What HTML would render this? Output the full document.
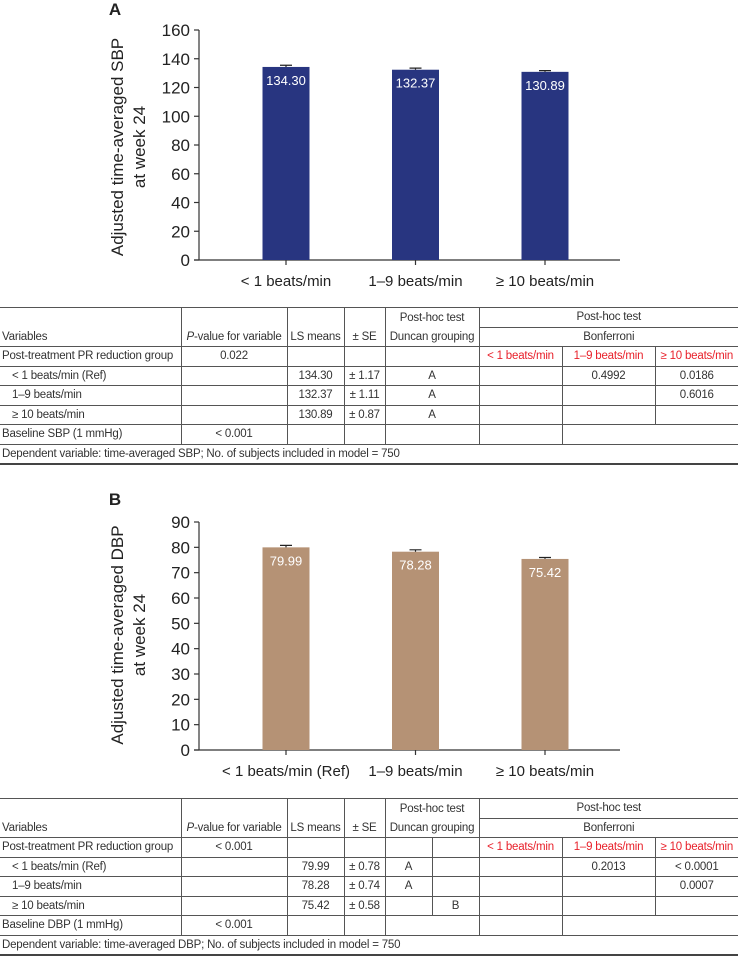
<!DOCTYPE html>
<html><head><meta charset="utf-8">
<style>
html,body{margin:0;padding:0;background:#fff;}
body{width:738px;height:956px;position:relative;overflow:hidden;font-family:"Liberation Sans",sans-serif;}
svg{position:absolute;left:0;top:0;}
table{position:absolute;left:0;width:738px;border-collapse:collapse;table-layout:fixed;font-family:"Liberation Sans",sans-serif;font-size:11.5px;letter-spacing:-0.2px;color:#333;}
td{padding:0 1px;height:18.5px;text-align:center;white-space:nowrap;overflow:hidden;border-bottom:1px solid #555;}
td.l{text-align:left;padding-left:2px;}
td.i{text-align:left;padding-left:12px;}
td.r{border-right:1px solid #555;}
td.nb{border-bottom:none;}
td.red{color:#e8202a;}
tr.last td{border-bottom:2px solid #444;}
tr.first td{border-top:1px solid #555;}
</style></head><body>
<svg id="chart" width="738" height="956"></svg>

<table id="tableA" style="top:307px">
<colgroup><col style="width:181px"><col style="width:106px"><col style="width:57px"><col style="width:41px"><col style="width:94px"><col style="width:83px"><col style="width:93px"><col style="width:83px"></colgroup>
<tr class="first"><td class="r nb"></td><td class="r nb"></td><td class="r nb"></td><td class="r nb"></td><td class="r nb">Post-hoc test</td><td colspan="3">Post-hoc test</td></tr>
<tr><td class="l r">Variables</td><td class="r"><i>P</i>-value for variable</td><td class="r">LS means</td><td class="r">± SE</td><td class="r">Duncan grouping</td><td colspan="3">Bonferroni</td></tr>
<tr><td class="l r">Post-treatment PR reduction group</td><td class="r">0.022</td><td class="r"></td><td class="r"></td><td class="r"></td><td class="r red">&lt; 1 beats/min</td><td class="r red">1–9 beats/min</td><td class="red">≥ 10 beats/min</td></tr>
<tr><td class="i r">&lt; 1 beats/min (Ref)</td><td class="r"></td><td class="r">134.30</td><td class="r">± 1.17</td><td class="r">A</td><td class="r"></td><td class="r">0.4992</td><td>0.0186</td></tr>
<tr><td class="i r">1–9 beats/min</td><td class="r"></td><td class="r">132.37</td><td class="r">± 1.11</td><td class="r">A</td><td class="r"></td><td class="r"></td><td>0.6016</td></tr>
<tr><td class="i r">≥ 10 beats/min</td><td class="r"></td><td class="r">130.89</td><td class="r">± 0.87</td><td class="r">A</td><td class="r"></td><td class="r"></td><td></td></tr>
<tr><td class="l r">Baseline SBP (1 mmHg)</td><td class="r">&lt; 0.001</td><td class="r"></td><td class="r"></td><td class="r"></td><td class="r"></td><td colspan="2"></td></tr>
<tr class="last"><td class="l" colspan="8">Dependent variable: time-averaged SBP; No. of subjects included in model = 750</td></tr>
</table>

<table id="tableB" style="top:798px">
<colgroup><col style="width:181px"><col style="width:106px"><col style="width:57px"><col style="width:41px"><col style="width:47px"><col style="width:47px"><col style="width:83px"><col style="width:93px"><col style="width:83px"></colgroup>
<tr class="first"><td class="r nb"></td><td class="r nb"></td><td class="r nb"></td><td class="r nb"></td><td class="r nb" colspan="2">Post-hoc test</td><td colspan="3">Post-hoc test</td></tr>
<tr><td class="l r">Variables</td><td class="r"><i>P</i>-value for variable</td><td class="r">LS means</td><td class="r">± SE</td><td class="r" colspan="2">Duncan grouping</td><td colspan="3">Bonferroni</td></tr>
<tr><td class="l r">Post-treatment PR reduction group</td><td class="r">&lt; 0.001</td><td class="r"></td><td class="r"></td><td class="r"></td><td class="r"></td><td class="r red">&lt; 1 beats/min</td><td class="r red">1–9 beats/min</td><td class="red">≥ 10 beats/min</td></tr>
<tr><td class="i r">&lt; 1 beats/min (Ref)</td><td class="r"></td><td class="r">79.99</td><td class="r">± 0.78</td><td class="r">A</td><td class="r"></td><td class="r"></td><td class="r">0.2013</td><td>&lt; 0.0001</td></tr>
<tr><td class="i r">1–9 beats/min</td><td class="r"></td><td class="r">78.28</td><td class="r">± 0.74</td><td class="r">A</td><td class="r"></td><td class="r"></td><td class="r"></td><td>0.0007</td></tr>
<tr><td class="i r">≥ 10 beats/min</td><td class="r"></td><td class="r">75.42</td><td class="r">± 0.58</td><td class="r"></td><td class="r">B</td><td class="r"></td><td class="r"></td><td></td></tr>
<tr><td class="l r">Baseline DBP (1 mmHg)</td><td class="r">&lt; 0.001</td><td class="r"></td><td class="r"></td><td class="r" colspan="2"></td><td class="r"></td><td colspan="2"></td></tr>
<tr class="last"><td class="l" colspan="9">Dependent variable: time-averaged DBP; No. of subjects included in model = 750</td></tr>
</table>

<script>
const categoriesA = ["< 1 beats/min", "1–9 beats/min", "≥ 10 beats/min"];
const valuesA = [134.30, 132.37, 130.89];
const errorsA = [1.17, 1.11, 0.87];
const ticksA = [0, 20, 40, 60, 80, 100, 120, 140, 160];
const categoriesB = ["< 1 beats/min (Ref)", "1–9 beats/min", "≥ 10 beats/min"];
const valuesB = [79.99, 78.28, 75.42];
const errorsB = [0.78, 0.74, 0.58];
const ticksB = [0, 10, 20, 30, 40, 50, 60, 70, 80, 90];

const NS = "http://www.w3.org/2000/svg";
const svg = document.getElementById("chart");
function mk(tag, attrs, text) {
  const e = document.createElementNS(NS, tag);
  for (const k in attrs) e.setAttribute(k, attrs[k]);
  if (text !== undefined) e.textContent = text;
  svg.appendChild(e);
  return e;
}
function drawChart(cfg) {
  const x0 = 199, x1 = 620;
  const yScale = v => cfg.yBottom - (v - cfg.ticks[0]) / (cfg.ticks[cfg.ticks.length - 1] - cfg.ticks[0]) * (cfg.yBottom - cfg.yTop);
  const xCenter = i => 286 + i * 129.5;
  const bw = 47;
  const letter = mk("text", {x: 115, y: cfg.letterY, "font-size": 17, "font-weight": "bold", fill: "#222", "text-anchor": "middle"}, cfg.letter);
  
  
  const ya = mk("line", {x1: x0, y1: cfg.yTop, x2: x0, y2: cfg.yBottom, stroke: "#333", "stroke-width": 1.2});
  
  
  const xa = mk("line", {x1: x0 - 5, y1: cfg.yBottom, x2: x1, y2: cfg.yBottom, stroke: "#333", "stroke-width": 1.2});
  
  
  cfg.ticks.forEach(t => {
    const y = yScale(t);
    const tl = mk("line", {x1: x0 - 5, y1: y, x2: x0, y2: y, stroke: "#333", "stroke-width": 1.2});
    
    
    const tt = mk("text", {x: x0 - 9, y: y + 6, "font-size": 17, fill: "#222", "text-anchor": "end"}, String(t));
    
    
  });
  const tg = mk("text", {transform: `translate(0,${cfg.titleY}) rotate(-90)`, "font-size": 17, fill: "#222", "text-anchor": "middle"});
  
  
  const s1 = document.createElementNS(NS, "tspan");
  s1.setAttribute("x", 0); s1.setAttribute("y", 123); s1.textContent = cfg.title1;
  const s2 = document.createElementNS(NS, "tspan");
  s2.setAttribute("x", 0); s2.setAttribute("y", 145); s2.textContent = "at week 24";
  tg.appendChild(s1); tg.appendChild(s2);
  cfg.values.forEach((v, i) => {
    const cx = xCenter(i), yt = yScale(v);
    const bar = mk("rect", {x: cx - bw / 2, y: yt, width: bw, height: cfg.yBottom - yt, fill: cfg.color});
    
    
    const ye = yScale(v + cfg.errors[i]);
    const eb = mk("path", {d: `M${cx},${yt} V${ye} M${cx - 6},${ye} H${cx + 6}`, stroke: "#222", "stroke-width": 1.2, fill: "none"});
    
    
    const vl = mk("text", {x: cx, y: yt + 18, "font-size": 13, fill: "#fff", "text-anchor": "middle"}, v.toFixed(2));
    
    
    const xt = mk("line", {x1: cx, y1: cfg.yBottom, x2: cx, y2: cfg.yBottom + 5, stroke: "#333", "stroke-width": 1.2});
    
    
    const xl = mk("text", {x: cx, y: cfg.yBottom + 26, "font-size": 15, fill: "#222", "text-anchor": "middle"}, cfg.cats[i]);
    
    
  });
}
drawChart({letter: "A", letterY: 15, yTop: 30, yBottom: 260, ticks: ticksA, values: valuesA, errors: errorsA, cats: categoriesA, color: "#283580", title1: "Adjusted time-averaged SBP", titleY: 147});
drawChart({letter: "B", letterY: 505, yTop: 522, yBottom: 750, ticks: ticksB, values: valuesB, errors: errorsB, cats: categoriesB, color: "#b59275", title1: "Adjusted time-averaged DBP", titleY: 635});
</script>
</body></html>
